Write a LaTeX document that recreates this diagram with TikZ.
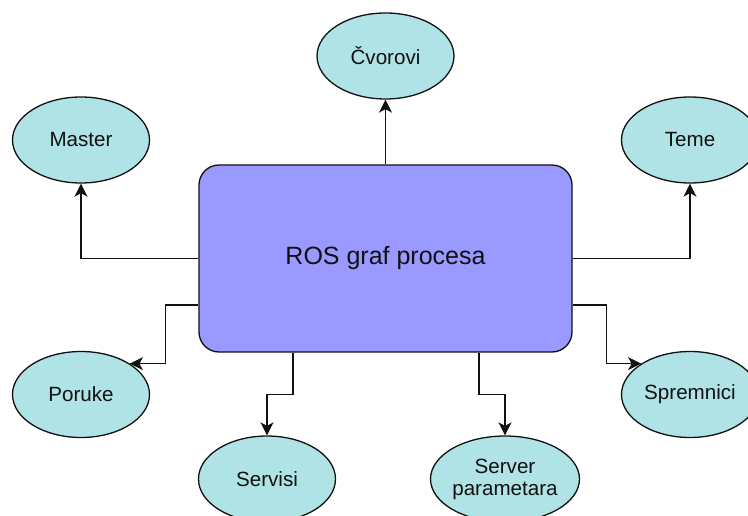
\documentclass[tikz,border=0pt]{standalone}
\usepackage{fontspec}
\setmainfont{Liberation Sans}
\usetikzlibrary{arrows.meta,shapes.geometric}
\definecolor{tealfill}{HTML}{B0E3E6}
\definecolor{rosfill}{HTML}{9999FF}
\definecolor{edge}{HTML}{111111}
\begin{document}
\begin{tikzpicture}[x=1pt,y=-1pt,
  ell/.style={ellipse, draw=edge, line width=1.3pt, fill=tealfill,
    minimum width=137pt, minimum height=86pt, inner sep=0pt,
    font=\fontsize{20.6}{24}\selectfont, text=edge, align=center},
  rosbox/.style={draw=edge, line width=1.3pt, fill=rosfill, rounded corners=20pt,
    minimum width=373pt, minimum height=187pt, inner sep=0pt,
    font=\fontsize{25}{30}\selectfont, text=edge},
  conn/.style={draw=edge, line width=1.4pt,
    -{Stealth[length=13pt,width=13pt,inset=3.5pt]}}]
\useasboundingbox (0,0) rectangle (748,516);
\clip (0,0) rectangle (748,516);
\node[rosbox] (ros) at (385.5,258.5) {ROS graf procesa};
\node[ell] (cvor) at (385.5,56) {Čvorovi};
\node[ell] (master) at (81,140) {Master};
\node[ell] (teme) at (690,140) {Teme};
\node[ell] (poruke) at (81,394.5) {Poruke};
\node[ell] (sprem) at (690,394.5) {Spremnici};
\node[ell] (serv) at (267,479) {Servisi};
\node[ell] (param) at (505,479) {Server\\[-2pt]parametara};
\draw[conn] (ros.north) -- (cvor.south);
\draw[conn] (ros.west) -| (master.south);
\draw[conn] (ros.east) -| (teme.south);
\draw[conn] ([yshift=-46.5pt]ros.west) -- ++(-33,0) |- (poruke.north east);
\draw[conn] ([yshift=-46.5pt]ros.east) -- ++(34,0) |- (sprem.north west);
\draw[conn] ([xshift=-92.5pt]ros.south) -- ++(0,42) -| (serv.north);
\draw[conn] ([xshift=93.5pt]ros.south) -- ++(0,42) -| (param.north);
\end{tikzpicture}
\end{document}
